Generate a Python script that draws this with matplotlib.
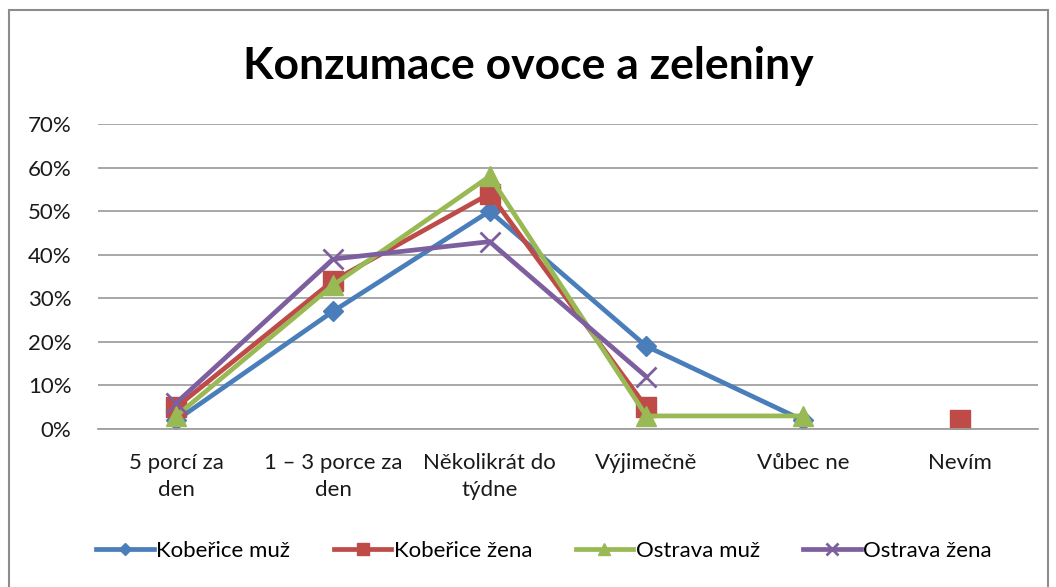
import numpy as np
import matplotlib.pyplot as plt
from matplotlib.patches import Rectangle

plt.rcParams['font.family'] = ['Lato', 'DejaVu Sans']

categories = ["5 porcí za\nden", "1 – 3 porce za\nden", "Několikrát do\ntýdne",
              "Výjimečně", "Vůbec ne", "Nevím"]
kobarice_muz = [2, 27, 50, 19, 2, np.nan]
koberice_zena = [5, 34, 54, 5, np.nan, 2]
ostrava_muz = [3, 33, 58, 3, 3, np.nan]
ostrava_zena = [6, 39, 43, 12, np.nan, np.nan]

series = [
    ("Kobeřice muž", kobarice_muz, "#4A7EBB", "D", 10, 1),
    ("Kobeřice žena", koberice_zena, "#BE4B48", "s", 14, 1),
    ("Ostrava muž", ostrava_muz, "#98B954", "^", 15, 1),
    ("Ostrava žena", ostrava_zena, "#7D5FA0", "x", 14, 2),
]

fig = plt.figure(figsize=(10.56, 5.87), dpi=100)
ax = fig.add_axes([98 / 1056, 1 - 429 / 587, 940 / 1056, 305 / 587])

x = np.arange(len(categories))
for name, vals, col, mk, ms, mew in series:
    ax.plot(x, np.array(vals, dtype=float) / 100, color=col, lw=3.4, marker=mk,
            ms=ms, mew=mew if mk == "x" else 1, mec=col, mfc=col, label=name,
            solid_joinstyle="miter")

ax.set_xlim(-0.5, len(categories) - 0.5)
ax.set_ylim(0, 0.7)
ax.set_yticks(np.arange(0, 0.71, 0.1))
ax.set_yticklabels([f"{int(round(v * 100))}%" for v in np.arange(0, 0.71, 0.1)])
ax.set_xticks(x)
ax.set_xticklabels(categories, linespacing=1.45)
ax.yaxis.grid(True, color="#A0A0A0", lw=1.3)
ax.set_axisbelow(True)
for s in ["top", "right", "left"]:
    ax.spines[s].set_visible(False)
ax.spines["bottom"].set_color("#A0A0A0")
ax.spines["bottom"].set_linewidth(1.3)
ax.tick_params(axis="both", length=0, labelsize=16, colors="#1a1a1a")
ax.tick_params(axis="y", pad=19)
ax.tick_params(axis="x", pad=17)

fig.text(0.5, 1 - 66 / 587, "Konzumace ovoce a zeleniny", ha="center", va="center",
         fontsize=32, fontweight="bold", color="black")

ax.legend(loc="center", bbox_to_anchor=(0.5 - 24 / 940, -(551 - 429) / 305),
          ncol=4, frameon=False, fontsize=16, handlelength=2.6, handletextpad=0.1,
          columnspacing=1.95, markerscale=0.6)

fig.patches.append(Rectangle((9 / 1056, -0.05), 1039 / 1056, 1 - 10 / 587 + 0.05,
                             transform=fig.transFigure, fill=False,
                             edgecolor="#8C8C8C", lw=1.5))

fig.savefig("out.png", dpi=100)
